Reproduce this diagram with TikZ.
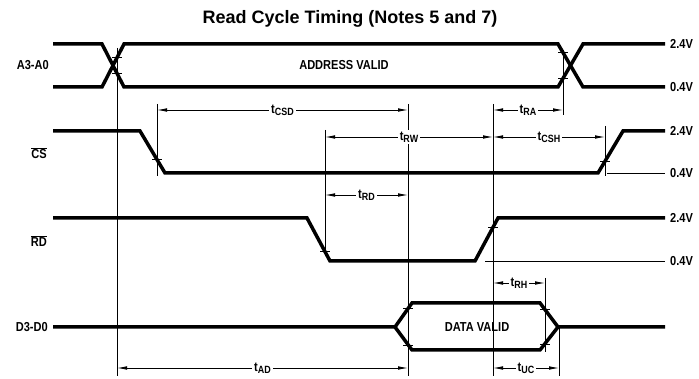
\documentclass[tikz,border=0pt]{standalone}
\usepackage{fontspec}
\setmainfont{Liberation Sans}
\newfontfamily\condfont[FakeStretch=0.85]{Liberation Sans}
\usetikzlibrary{arrows.meta}
\newcommand{\tsub}[1]{{\fontsize{13}{13}\selectfont t}\raisebox{-2pt}{\fontsize{10.5}{10}\selectfont #1}}
\newcommand{\ovl}[1]{$\overline{\hbox{#1}}$}
\tikzset{
  sig/.style={line width=3.5pt},
  fine/.style={line width=0.8pt},
  dim/.style={fine, {Latex[length=10pt,width=3.6pt]}-{Latex[length=10pt,width=3.6pt]}},
  lbl/.style={font=\condfont\bfseries\fontsize{13}{14}\selectfont, inner sep=1pt},
  tlbl/.style={lbl, fill=white, inner sep=2pt}
}
\newcommand{\tick}[2]{\draw[fine] (#1-5,#2) -- (#1+5,#2);}
\begin{document}
\begin{tikzpicture}[x=1pt,y=-1pt]
\useasboundingbox (0,0) rectangle (699,379);
\node (title) at (350,19) {\bfseries\fontsize{18}{18}\selectfont Read Cycle Timing (Notes 5 and 7)};
% time marks
\coordinate (v1) at (117,0);
\coordinate (v2) at (157,0);
\coordinate (v3) at (325,0);
\coordinate (v4) at (408,0);
\coordinate (v5) at (493,0);
\coordinate (v6) at (563,0);
\coordinate (v7) at (605,0);
\coordinate (v8) at (545,0);
\coordinate (v9) at (559,0);
% signals
\draw[sig] (53,44) -- (102,44) -- (124,87) -- (558,87) -- (583,44) -- (665,44);
\draw[sig] (53,87) -- (102,87) -- (124,44) -- (558,44) -- (583,87) -- (665,87);
\draw[sig] (53,131) -- (140,131) -- (165,173) -- (598,173) -- (623,131) -- (665,131);
\draw[sig] (53,218) -- (307,218) -- (330,261) -- (475,261) -- (498,218) -- (665,218);
\draw[sig] (53,327) -- (395,327) -- (412,303) -- (540,303) -- (558,327) -- (665,327);
\draw[sig] (395,327) -- (412,350) -- (540,350) -- (558,327);
\draw[fine] (607,173) -- (665,173);
\draw[fine] (485,261) -- (665,261);
\node[lbl] (addr) at (344,65) {ADDRESS VALID};
\node[lbl] (data) at (477,327) {DATA VALID};
\node[lbl, anchor=east] (a) at (50,65) {A3-A0};
\node[lbl, anchor=east] (cs) at (48,153) {\ovl{CS}};
\node[lbl, anchor=east] (rd) at (48,241) {\ovl{RD}};
\node[lbl, anchor=east] (d) at (49,327) {D3-D0};
\foreach \y/\v in {44/2.4V,87/0.4V,131/2.4V,173/0.4V,218/2.4V,261/0.4V}
  \node[lbl, anchor=west] at (669,\y) {\v};
% reference lines
\draw[fine] (v1 |- 0,48) -- (v1 |- 0,376);
\draw[fine] (v2 |- 0,104) -- (v2 |- 0,176);
\draw[fine] (v3 |- 0,130) -- (v3 |- 0,255);
\draw[fine] (v4 |- 0,104) -- (v4 |- 0,376);
\draw[fine] (v5 |- 0,104) -- (v5 |- 0,376);
\draw[fine] (v6 |- 0,50) -- (v6 |- 0,115);
\draw[fine] (v7 |- 0,126) -- (v7 |- 0,176);
\draw[fine] (v8 |- 0,278) -- (v8 |- 0,352);
\draw[fine] (v9 |- 0,327) -- (v9 |- 0,376);
\tick{117}{73.3} \tick{117}{57.7}
\tick{563}{52.6} \tick{563}{78.4}
\tick{157}{159.6} \tick{605}{161.2}
\tick{325}{251.6} \tick{493}{227.3}
\tick{408}{308.6} \tick{408}{345.4}
\tick{545}{309.7} \tick{545}{344.3}
% timing arrows
\draw[dim] (v2 |- 0,110) -- node[tlbl] (tcsd) {\tsub{CSD}} (v4 |- 0,110);
\draw[dim] (v5 |- 0,110) -- node[tlbl] (tra) {\tsub{RA}} (v6 |- 0,110);
\draw[dim] (v3 |- 0,137) -- node[tlbl] (trw) {\tsub{RW}} (v5 |- 0,137);
\draw[dim] (v5 |- 0,137) -- node[tlbl] (tcsh) {\tsub{CSH}} (v7 |- 0,137);
\draw[dim] (v3 |- 0,195) -- node[tlbl] (trd) {\tsub{RD}} (v4 |- 0,195);
\draw[dim] (v5 |- 0,283) -- node[tlbl] (trh) {\tsub{RH}} (v8 |- 0,283);
\draw[dim] (v1 |- 0,368) -- node[tlbl] (tad) {\tsub{AD}} (v4 |- 0,368);
\draw[dim] (v5 |- 0,368) -- node[tlbl] (tuc) {\tsub{UC}} (v9 |- 0,368);
\end{tikzpicture}
\end{document}
